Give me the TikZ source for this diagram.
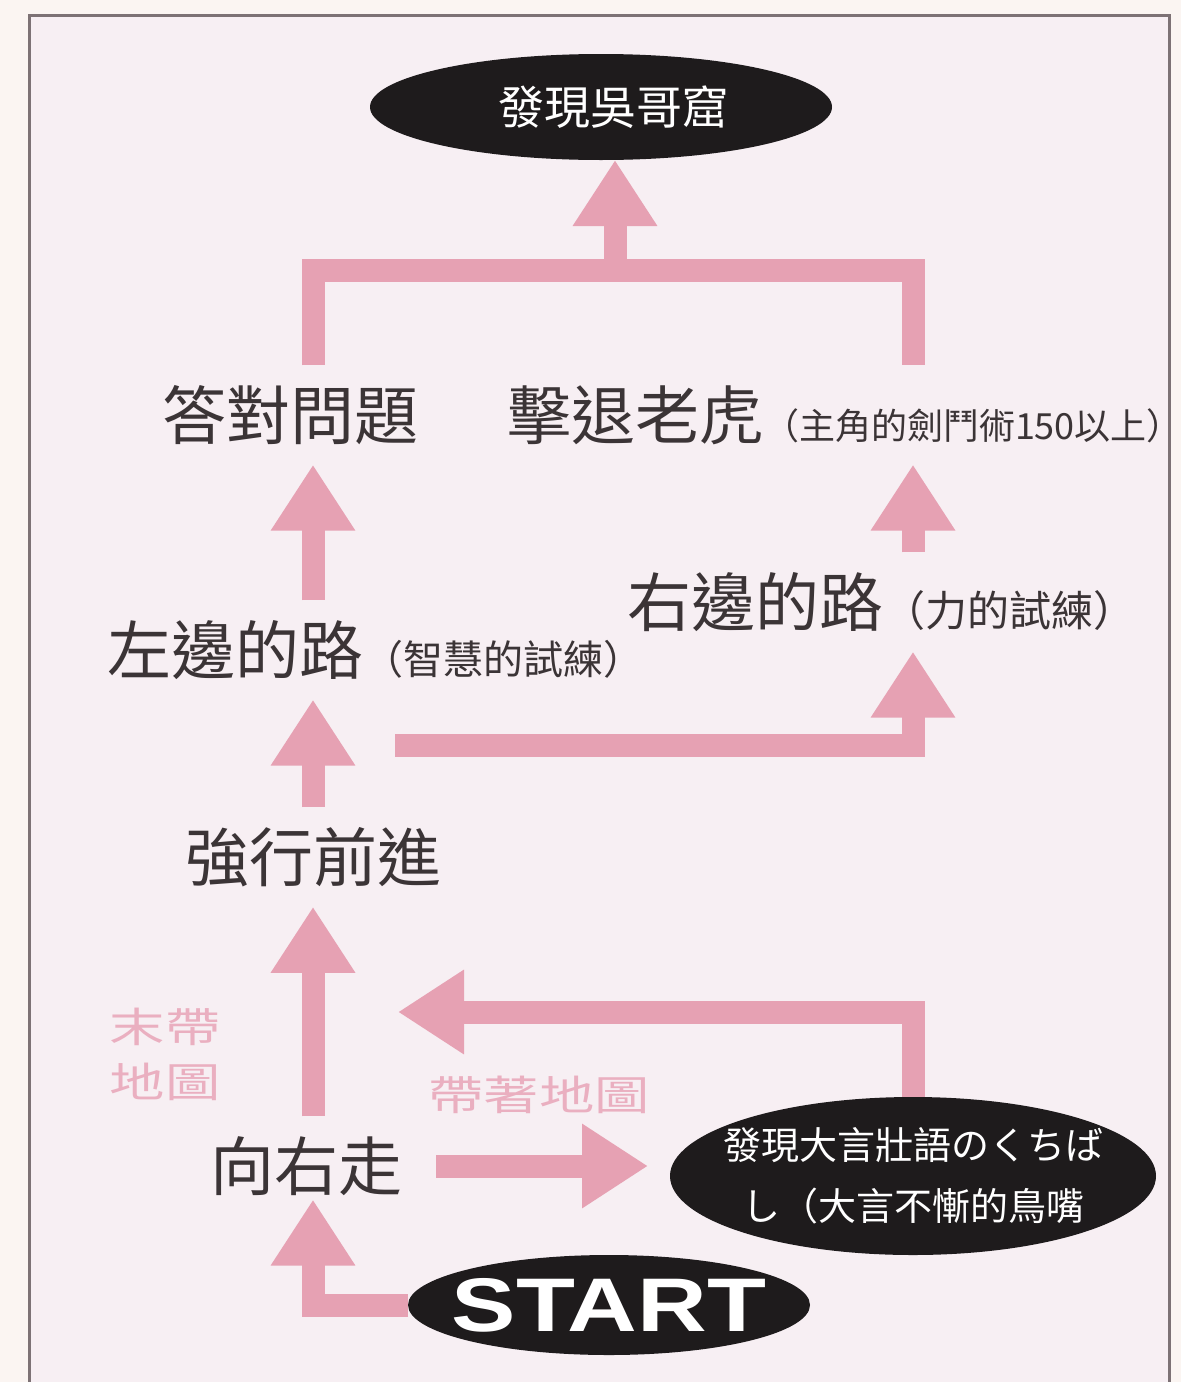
\documentclass[tikz,border=0pt]{standalone}
\usepackage{fontspec}
\usepackage{xcolor}
\usepackage{tikz}
\usetikzlibrary{arrows.meta,positioning,shapes.geometric,backgrounds}
\newfontfamily\cjk{Noto Sans CJK TC}
\newfontfamily\cjkwide{Noto Sans CJK TC}[FakeStretch=1.35]
\newfontfamily\startfont{Liberation Sans}[FakeStretch=1.27]
\newcommand{\hint}[2][36]{{\fontsize{#1}{#1}\selectfont #2}}
\definecolor{arrpink}{HTML}{E6A1B3}
\definecolor{notepink}{HTML}{EAAFC0}
\definecolor{ink}{HTML}{3B3436}
\definecolor{blobfill}{HTML}{1E1B1C}
\definecolor{paperin}{HTML}{F7EFF3}
\definecolor{paperout}{HTML}{FBF5F2}
\definecolor{framegray}{HTML}{7D7275}

\begin{document}
\begin{tikzpicture}[
  x=1pt, y=-1pt,
  lbl/.style={font=\cjk\fontsize{64}{64}\selectfont, text=ink, inner sep=0pt, outer sep=20pt},
  maptag/.style={font=\cjkwide\fontsize{41}{55}\selectfont, text=notepink, align=center, inner sep=0pt},
  blob/.style={ellipse, fill=blobfill, text=white, inner xsep=-60pt, inner ysep=-20pt, outer sep=0pt},
  arr/.style={draw=arrpink, line width=23pt, -{Triangle[length=66pt,width=80pt]}},
  bar/.style={draw=arrpink, line width=23pt}
]
  \useasboundingbox (0,0) rectangle (1181,1382);
  \begin{scope}[on background layer]
    \fill[paperout] (0,0) rectangle (1181,1382);
    \fill[paperin] (29,15) rectangle (1169,1382);
    \draw[framegray, line width=3pt] (29,1382) -- (29,15) -- (1169,15) -- (1169,1382);
  \end{scope}

  \node[blob, minimum width=462pt, minimum height=106pt,
        font=\cjk\fontsize{46}{46}\selectfont] (Cave) at (601,107) {\hspace{24pt}發現吳哥窟};
  \node[lbl] (Quiz) at (290,415) {答對問題};
  \node[lbl, anchor=west] (Tiger) at (487,415) {擊退老虎\hint{（主角的劍鬥術150以上）}};
  \node[lbl, anchor=west] (Right) at (607,602) {右邊的路\hint[42]{（力的試練）}};
  \node[lbl, anchor=west] (Left) at (87,650) {左邊的路\hint[40]{（智慧的試練）}};
  \node[lbl] (Push) at (313,857) {強行前進};
  \node[lbl] (Walk) at (306,1166) {向右走};
  \node[maptag] (NoMap) at (165,1054) {末帶\\地圖};
  \node[maptag] (WithMap) at (539,1095) {帶著地圖};
  \node[blob, minimum width=486pt, minimum height=158pt, align=center,
        font=\cjk\fontsize{38}{61}\selectfont] (Beak) at (913,1176)
        {發現大言壯語のくちば\\し（大言不慚的鳥嘴};
  \node[blob, minimum width=402pt, minimum height=100pt,
        font=\startfont\bfseries\fontsize{76}{76}\selectfont] (Start) at (609,1305) {START};

  \coordinate (Top) at (615,270);
  \coordinate (Split) at (395,745);
  \coordinate (Merge) at (398,1012);

  \begin{scope}[on background layer]
    % start and the map fork
    \draw[arr] (Start) -| ([yshift=16pt]Push |- Walk.south);
    \draw[arr, shorten <=14pt, shorten >=22pt] (Walk.east) -- (Walk.east -| Beak.west);
    \draw[arr] (Beak) |- (Merge);
    \draw[arr] (Push |- Walk.north) -- (Push.south);
    % the two trials
    \draw[arr] (Push.north) -- (Push.north |- Left.south);
    \draw[arr] (Split) -| (Beak.north |- Right.south);
    \draw[arr] (Push.north |- Left.north) -- (Push.north |- Quiz.south);
    \draw[arr] (Beak.north |- Right.north) -- (Beak.north |- Tiger.south);
    % both lead to the cave
    \draw[bar] (Push.north |- Quiz.north) |- (Top) -| (Beak.north |- Tiger.north);
    \draw[arr] (Top) -- (Top |- Cave.south);
  \end{scope}
\end{tikzpicture}
\end{document}
